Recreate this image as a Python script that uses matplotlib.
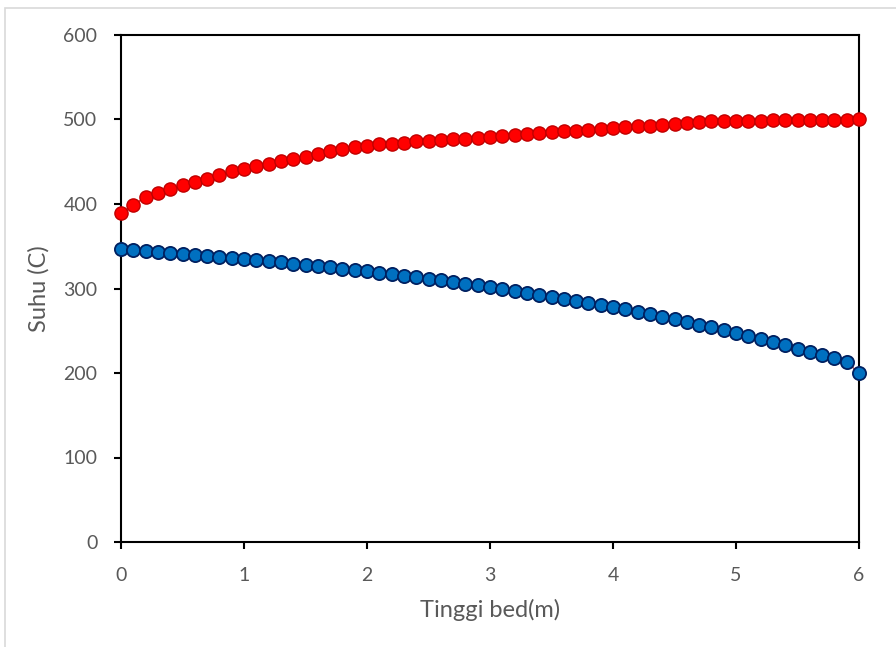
import numpy as np
import matplotlib
matplotlib.use("Agg")
import matplotlib.pyplot as plt
from matplotlib.patches import Rectangle

# Bed height (m)
tinggi = [round(0.1 * i, 1) for i in range(61)]

# Gas temperature along the bed (C)
suhu_merah = [
    389, 399, 408, 413, 417.5, 422.5, 426, 430, 434, 438.5,
    441, 444.5, 447, 451, 453.5, 456, 459.5, 462.5, 465, 467.5,
    468.5, 470.5, 471.5, 472.5, 474, 475, 475.5, 476.5, 477.5, 478.5,
    479.6, 481, 482, 483, 484.4, 485, 486, 486.8, 487.3, 488.5,
    490, 490.7, 492, 492.7, 493.9, 495, 496, 497, 498, 498.6,
    498.8, 498.8, 498.8, 498.9, 499.4, 499.5, 499.5, 499.6, 499.6, 499.7,
    500,
]

# Solid temperature along the bed (C)
suhu_biru = [
    346.7, 345.6, 344, 343.2, 342.4, 340.8, 340, 338.8, 337.3, 336,
    335.3, 333.3, 332, 331, 329.4, 328.2, 326.6, 325, 323.4, 322,
    320.3, 318.7, 316.8, 315.2, 313.2, 311.6, 309.7, 307.7, 305.7, 303.8,
    301.4, 299.4, 297, 295, 292.7, 290.3, 288, 285.6, 282.8, 280.8,
    278, 275.4, 272.5, 269.4, 266.3, 263.5, 260.4, 257.2, 254, 251,
    247.3, 243.8, 239.9, 236.3, 232.7, 228.8, 225.2, 221.3, 217.4, 213.4,
    199.6,
]

plt.rcParams['font.family'] = ['Lato', 'DejaVu Sans']

fig = plt.figure(figsize=(8.96, 6.47), dpi=100)
fig.patches.append(Rectangle((5 / 896, -0.1), 1.2, (647 - 8) / 647 + 0.1,
                             transform=fig.transFigure, fill=False,
                             edgecolor='#D9D9D9', linewidth=1.2))

ax = fig.add_axes([121 / 896, 105 / 647, 738 / 896, 507 / 647])

ax.plot(tinggi, suhu_merah, color='#FF0000', linewidth=1, marker='o',
        markersize=9.5, markerfacecolor='#FF0000', markeredgecolor='#C00000',
        markeredgewidth=1.0, zorder=3, clip_on=False)
ax.plot(tinggi, suhu_biru, color='#C0504D', linewidth=1, marker='o',
        markersize=9.5, markerfacecolor='#0070C0', markeredgecolor='#002060',
        markeredgewidth=1.3, zorder=3, clip_on=False)

ax.set_xlim(0, 6)
ax.set_ylim(0, 600)
ax.set_xticks(range(0, 7))
ax.set_yticks(range(0, 601, 100))

for s in ax.spines.values():
    s.set_color('black')
    s.set_linewidth(1.5)

ax.tick_params(axis='both', direction='out', length=5, width=1.5,
               color='black', labelcolor='#595959', labelsize=14)
ax.tick_params(axis='x', pad=13)
ax.tick_params(axis='y', pad=12)

ax.set_xlabel('Tinggi bed(m)', fontsize=17, color='#595959', labelpad=11)
ax.set_ylabel('Suhu (C)', fontsize=17, color='#595959', labelpad=10)

fig.savefig('out.png', dpi=100)
